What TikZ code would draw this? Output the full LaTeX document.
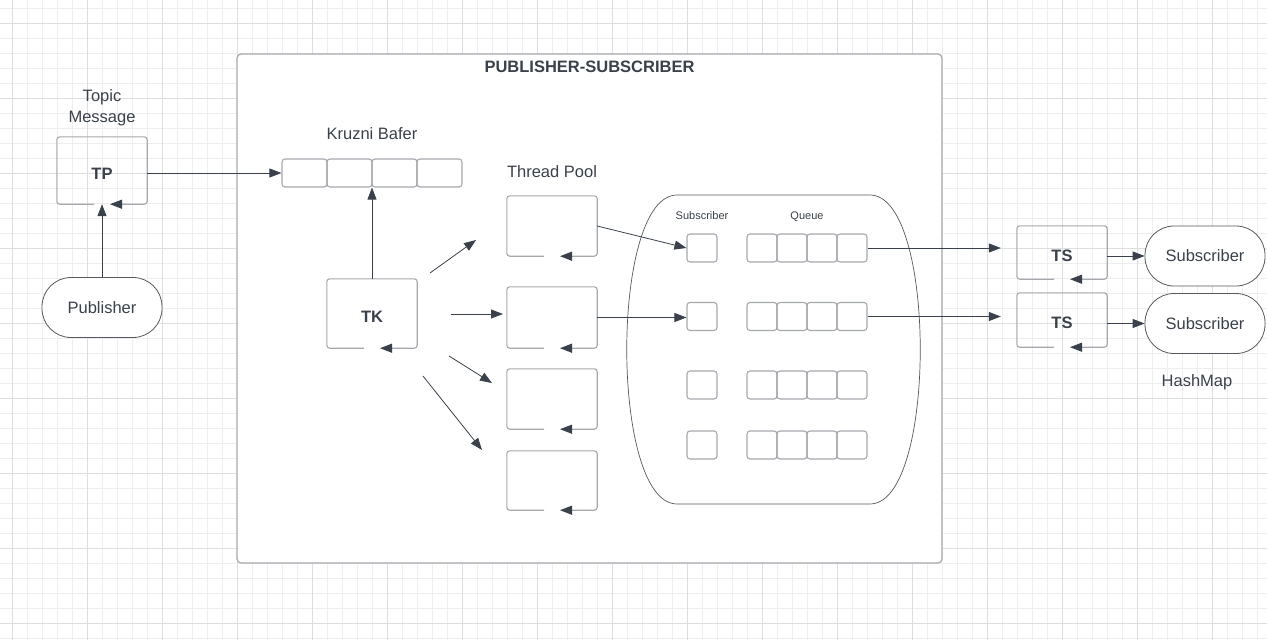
\documentclass[tikz,border=0pt]{standalone}
\usepackage{fontspec}
\setmainfont{Liberation Sans}
\usetikzlibrary{arrows.meta,calc}
\definecolor{ink}{RGB}{58,65,74}
\definecolor{boxgray}{RGB}{165,168,173}
\definecolor{pilledge}{RGB}{85,88,94}
\definecolor{gridminor}{RGB}{238,238,238}
\definecolor{gridmajor}{RGB}{222,222,222}

% box outline with the bottom edge turned into a small return arrow
\newcommand{\loopframe}[1]{%
  \draw[boxframe] ($(#1.south)+(-8,0)$) -- (#1.south west) -- (#1.north west)
    -- (#1.north east) -- (#1.south east) -- ($(#1.south)+(8,0)$);}

\begin{document}
\begin{tikzpicture}[x=1pt,y=-1pt,
  txt/.style={text=ink,font=\fontsize{16.5}{21}\selectfont},
  boldtxt/.style={text=ink,font=\fontsize{16.5}{21}\selectfont\bfseries},
  smalltxt/.style={text=ink,font=\fontsize{11}{13}\selectfont},
  loopbox/.style={inner sep=0pt,minimum width=90pt,text height=17pt,text depth=0pt},
  cell/.style={draw=boxgray,line width=1.1pt,rounded corners=3pt,inner sep=0pt,
    minimum width=30pt,minimum height=28pt},
  bufcell/.style={cell,minimum width=45pt},
  pill/.style={txt,draw=pilledge,fill=white,line width=0.8pt,rounded corners=29pt,
    inner sep=0pt,minimum width=120pt,minimum height=60pt},
  conn/.style={draw=ink,line width=0.8pt,-{Triangle[length=12pt,width=9pt]}},
  boxframe/.style={draw=boxgray,line width=1.1pt,rounded corners=3pt,
    -{Triangle[length=12pt,width=9pt,color=ink]}}]

  % background grid
  \useasboundingbox (0,0) rectangle (1267,640);
  \fill[white] (0,0) rectangle (1267,640);
  \foreach \x in {-3,12,...,1267} \draw[gridminor,line width=1pt] (\x,0) -- (\x,640);
  \foreach \y in {8,23,...,638} \draw[gridminor,line width=1pt] (0,\y) -- (1267,\y);
  \foreach \x in {12,87,...,1262} \draw[gridmajor,line width=1pt] (\x,0) -- (\x,640);
  \foreach \y in {23,98,...,623} \draw[gridmajor,line width=1pt] (0,\y) -- (1267,\y);

  % container
  \node[draw=boxgray,fill=white,line width=1.2pt,rounded corners=4pt,inner sep=0pt,
    minimum width=705pt,minimum height=509pt] (pubsub) at (589.5,308.5) {};
  \node[boldtxt] (title) at (589.5,66.5) {PUBLISHER-SUBSCRIBER};

  % hashmap region
  \draw[pilledge,line width=0.7pt,fill=white] (677,195) -- (870,195)
    .. controls (937,195) and (937,504) .. (870,504) -- (677,504)
    .. controls (610,504) and (610,195) .. (677,195) -- cycle;

  % publisher side
  \node[txt,align=center] (topic) at (102,107.5) {Topic\\Message};
  \node[loopbox,boldtxt,minimum height=67pt] (tp) at (102,170.5) {TP};
  \node[pill] (pub) at (102,307.5) {Publisher};

  % circular buffer
  \node[txt] (buflbl) at (372,134) {Kruzni Bafer};
  \foreach \i in {1,...,4} \node[bufcell] (buf\i) at ({259.5+45*\i},173) {};

  \node[loopbox,boldtxt,minimum height=69pt] (tk) at (372,313.5) {TK};

  % thread pool
  \node[txt] (poollbl) at (552,172) {Thread Pool};
  \node[loopbox,minimum height=60pt] (th1) at (552,226) {};
  \node[loopbox,minimum height=61pt] (th2) at (552,317.5) {};
  \node[loopbox,minimum height=60pt] (th3) at (552,399) {};
  \node[loopbox,minimum height=59pt] (th4) at (552,480.5) {};

  % subscribers and their queues
  \node[smalltxt] (sublbl) at (702,216) {Subscriber};
  \node[smalltxt] (queuelbl) at (807,217) {Queue};
  \foreach \r/\y in {1/248,2/316.5,3/385,4/445} {
    \node[cell] (s\r) at (702,\y) {};
    \foreach \c in {1,...,4} \node[cell] (q\r\c) at ({732+30*\c},\y) {};
  }

  % subscriber threads
  \node[loopbox,boldtxt,minimum height=53pt] (ts1) at (1062,252.5) {TS};
  \node[loopbox,boldtxt,minimum height=54pt] (ts2) at (1062,320) {TS};
  \node[pill] (sub1) at (1205,256) {Subscriber};
  \node[pill] (sub2) at (1205,323.5) {Subscriber};
  \node[txt] (hashlbl) at (1197,382) {HashMap};

  \foreach \n in {tp,tk,th1,th2,th3,th4,ts1,ts2} \loopframe{\n};

  % connectors
  \draw[conn] (pub.north) -- (tp.south); % publisher-tp
  \draw[conn] (tp.east |- buf1.west) -- (buf1.west); % tp-buffer
  \draw[conn] (tk.north) -- (tk.north |- buf2.south); % tk-buffer

  \coordinate (a1s) at (430,273); \coordinate (a1e) at (476,240);
  \coordinate (a2s) at (451,314); \coordinate (a2e) at (503,314);
  \coordinate (a3s) at (449,356); \coordinate (a3e) at (492,383);
  \coordinate (a4s) at (423,376); \coordinate (a4e) at (482,450);
  \foreach \k in {1,...,4} \draw[conn] (a\k s) -- (a\k e); % tk-threads

  \draw[conn] (th1.east) -- (s1.west); % thread-subscriber
  \draw[conn] (th2.east) -- (s2.west |- th2.east);

  \coordinate (ts1in) at ($(ts1.west |- q14.east)+(-16,0)$);
  \coordinate (ts2in) at ($(ts2.west |- q24.east)+(-16,0)$);
  \draw[conn] (q14.east) -- (ts1in); % queue-ts
  \draw[conn] (q24.east) -- (ts2in);

  \draw[conn] (ts1.east |- sub1.west) -- (sub1.west); % ts-subscriber
  \draw[conn] (ts2.east |- sub2.west) -- (sub2.west);
\end{tikzpicture}
\end{document}
